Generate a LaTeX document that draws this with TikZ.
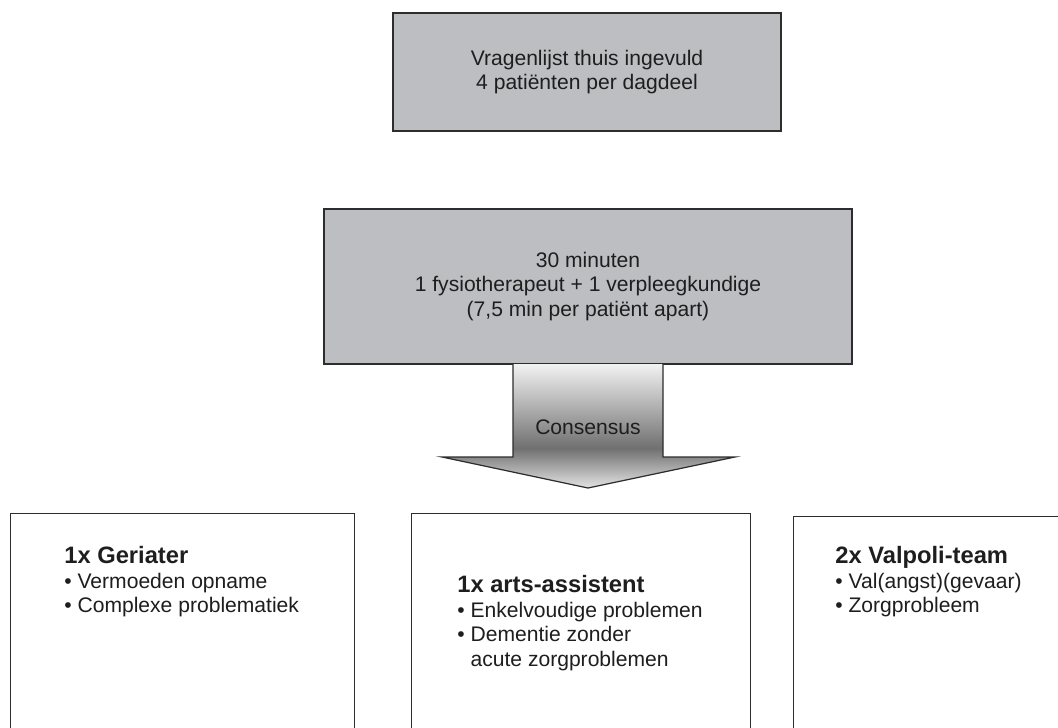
\documentclass[tikz,border=0pt]{standalone}
\usepackage{fontspec}
\setmainfont{Liberation Sans}
\definecolor{boxgray}{RGB}{189,190,194}
\definecolor{edgegray}{RGB}{45,45,45}
\definecolor{inkgray}{RGB}{30,30,30}
\definecolor{shadetop}{RGB}{242,242,242}
\definecolor{shadedark}{RGB}{112,112,112}
\definecolor{shadetip}{RGB}{228,228,228}
\pgfdeclareverticalshading{consensusshade}{100bp}{color(0bp)=(shadetip); color(25bp)=(shadetip); color(41bp)=(shadedark); color(75bp)=(shadetop); color(100bp)=(shadetop)}

\begin{document}
\begin{tikzpicture}[x=0.02cm, y=-0.02cm,
  graybox/.style={draw=edgegray, line width=0.9pt, fill=boxgray, align=center, text=inkgray, font=\fontsize{12}{14}\selectfont},
  whitebox/.style={draw=edgegray, line width=0.8pt, fill=white, anchor=north west, minimum height=5cm},
  list/.style={anchor=north west, inner sep=0pt, align=left, text=inkgray, font=\fontsize{12}{14}\selectfont}]
\useasboundingbox (0,0) rectangle (1058,727);
\clip (0,0) rectangle (1058,727);

\node (intake) at (587,72) [graybox, minimum width=7.76cm, minimum height=2.36cm] {Vragenlijst thuis ingevuld\\4 patiënten per dagdeel};
\node (screening) at (588,286.5) [graybox, minimum width=10.56cm, minimum height=3.1cm] {30 minuten\\1 fysiotherapeut + 1 verpleegkundige\\(7,5 min per patiënt apart)};

% brede pijl naar de drie routes
\shadedraw[shading=consensusshade, draw=edgegray, line width=0.7pt] (513,364) -- (513,457) -- (442,457) -- (588,488) -- (735,457) -- (663,457) -- (663,364);
\node (consensus) at (588,427) [text=inkgray, font=\fontsize{12}{14}\selectfont] {Consensus};

\node (geriater) at (10,513) [whitebox, minimum width=6.88cm] {};
\node (arts) at (411,513) [whitebox, minimum width=6.78cm] {};
\node (valpoli) at (793,516) [whitebox, minimum width=6.5cm] {};

\node (geriater-txt) at (64,546) [list] {{\bfseries\fontsize{13.5}{14}\selectfont 1x Geriater}\\• Vermoeden opname\\• Complexe problematiek};
\node (arts-txt) at (457,575) [list] {{\bfseries\fontsize{13.5}{14}\selectfont 1x arts-assistent}\\• Enkelvoudige problemen\\• Dementie zonder\\\hphantom{• }acute zorgproblemen};
\node (valpoli-txt) at (835,546) [list] {{\bfseries\fontsize{13.5}{14}\selectfont 2x Valpoli-team}\\• Val(angst)(gevaar)\\• Zorgprobleem};
\end{tikzpicture}
\end{document}
